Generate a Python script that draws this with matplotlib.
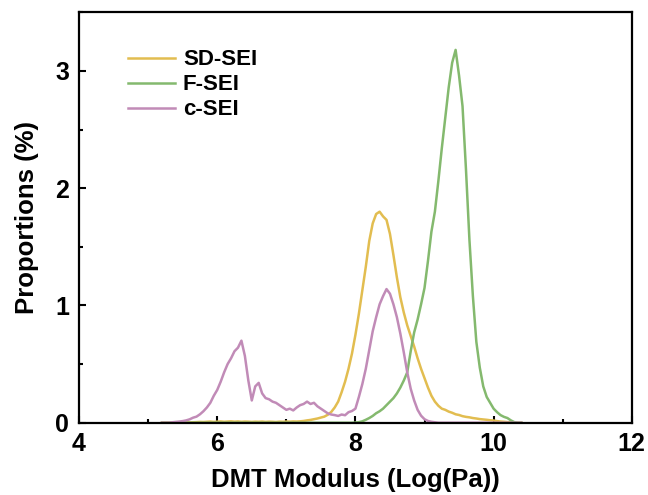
import numpy as np
import matplotlib.pyplot as plt
from matplotlib.ticker import MultipleLocator

# log(DMT modulus) bin centres, 0.05 wide, 5.20 .. 10.40
modulus = np.round(np.arange(5.20, 10.401, 0.05), 2)

sd_sei = [
    0.0, 0.0, 0.0, 0.0, 0.0, 0.0, 0.0, 0.002, 0.003, 0.004,
    0.005, 0.007, 0.006, 0.008, 0.010, 0.007, 0.009, 0.011, 0.008, 0.010,
    0.012, 0.009, 0.011, 0.008, 0.010, 0.009, 0.007, 0.009, 0.008, 0.010,
    0.007, 0.009, 0.008, 0.006, 0.009, 0.008, 0.010, 0.009, 0.011, 0.010,
    0.012, 0.015, 0.020, 0.024, 0.030, 0.036, 0.044, 0.052, 0.068, 0.092,
    0.13, 0.18, 0.26, 0.35, 0.46, 0.59, 0.75, 0.93, 1.13, 1.33,
    1.55, 1.70, 1.78, 1.80, 1.76, 1.73, 1.61, 1.43, 1.24, 1.07,
    0.94, 0.83, 0.74, 0.65, 0.55, 0.46, 0.38, 0.30, 0.23, 0.18,
    0.145, 0.12, 0.11, 0.095, 0.085, 0.072, 0.066, 0.056, 0.050, 0.046,
    0.040, 0.036, 0.031, 0.028, 0.025, 0.021, 0.019, 0.014, 0.010, 0.008,
    0.005, 0.003, 0.0, 0.0, 0.0,
]

f_sei = [
    0.0, 0.0, 0.0, 0.0, 0.0, 0.0, 0.0, 0.0, 0.0, 0.0,
    0.0, 0.0, 0.0, 0.0, 0.0, 0.0, 0.0, 0.0, 0.0, 0.0,
    0.0, 0.0, 0.0, 0.0, 0.0, 0.0, 0.0, 0.0, 0.0, 0.0,
    0.0, 0.0, 0.0, 0.0, 0.0, 0.0, 0.0, 0.0, 0.0, 0.0,
    0.0, 0.0, 0.0, 0.0, 0.0, 0.0, 0.0, 0.0, 0.0, 0.0,
    0.0, 0.0, 0.0, 0.0, 0.0, 0.0, 0.002, 0.005, 0.012, 0.025,
    0.040, 0.058, 0.081, 0.098, 0.12, 0.15, 0.18, 0.21, 0.25, 0.30,
    0.36, 0.43, 0.61, 0.77, 0.88, 1.01, 1.15, 1.38, 1.63, 1.80,
    2.06, 2.34, 2.60, 2.86, 3.07, 3.18, 2.96, 2.70, 2.16, 1.56,
    1.08, 0.69, 0.47, 0.31, 0.22, 0.17, 0.12, 0.09, 0.065, 0.05,
    0.04, 0.02, 0.005, 0.0, 0.0,
]

c_sei = [
    0.0, 0.0, 0.0, 0.004, 0.007, 0.010, 0.014, 0.020, 0.029, 0.043,
    0.052, 0.072, 0.098, 0.13, 0.17, 0.23, 0.28, 0.35, 0.43, 0.50,
    0.55, 0.61, 0.64, 0.70, 0.57, 0.36, 0.19, 0.31, 0.34, 0.25,
    0.21, 0.20, 0.18, 0.17, 0.15, 0.13, 0.11, 0.12, 0.105, 0.13,
    0.15, 0.16, 0.18, 0.16, 0.17, 0.14, 0.12, 0.10, 0.08, 0.07,
    0.065, 0.058, 0.07, 0.064, 0.09, 0.10, 0.12, 0.22, 0.33, 0.46,
    0.62, 0.78, 0.90, 1.01, 1.08, 1.14, 1.10, 1.01, 0.90, 0.76,
    0.60, 0.43, 0.29, 0.19, 0.11, 0.06, 0.03, 0.015, 0.008, 0.004,
    0.0, 0.0, 0.0, 0.0, 0.0, 0.0, 0.0, 0.0, 0.0, 0.0,
    0.0, 0.0, 0.0, 0.0, 0.0, 0.0, 0.0, 0.0, 0.0, 0.0,
    0.0, 0.0, 0.0, 0.0, 0.0,
]

series = [("SD-SEI", sd_sei, "#E2BD50"),
          ("F-SEI", f_sei, "#84B96E"),
          ("c-SEI", c_sei, "#C18BB7")]

plt.rcParams['font.family'] = ['Liberation Sans', 'DejaVu Sans']
plt.rcParams['font.weight'] = 'bold'

fig = plt.figure(figsize=(6.48, 4.95), dpi=100)
ax = fig.add_axes([0.122, 0.146, 0.853, 0.829])

for name, vals, col in series:
    ax.plot(modulus, vals, color=col, lw=1.8, label=name)

ax.set_xlim(4, 12)
ax.set_ylim(0, 3.5)
ax.xaxis.set_major_locator(MultipleLocator(2))
ax.xaxis.set_minor_locator(MultipleLocator(1))
ax.yaxis.set_major_locator(MultipleLocator(1))
ax.yaxis.set_minor_locator(MultipleLocator(0.5))
ax.tick_params(which='both', direction='in', width=1.5, labelsize=18)
ax.tick_params(axis='x', pad=7)
ax.tick_params(axis='y', pad=7)
ax.tick_params(which='major', length=5)
ax.tick_params(which='minor', length=3)
for sp in ax.spines.values():
    sp.set_linewidth(1.6)

ax.set_xlabel("DMT Modulus (Log(Pa))", fontsize=18.5, fontweight='bold', labelpad=8)
ax.set_ylabel("Proportions (%)", fontsize=18.5, fontweight='bold', labelpad=12)

leg = ax.legend(loc='upper left', bbox_to_anchor=(0.089, 0.91), frameon=False,
                fontsize=16, handlelength=2.1, handletextpad=0.36,
                labelspacing=0.18, borderpad=0, borderaxespad=0)
for t in leg.get_texts():
    t.set_fontweight('bold')

plt.savefig("out.png", dpi=100)
